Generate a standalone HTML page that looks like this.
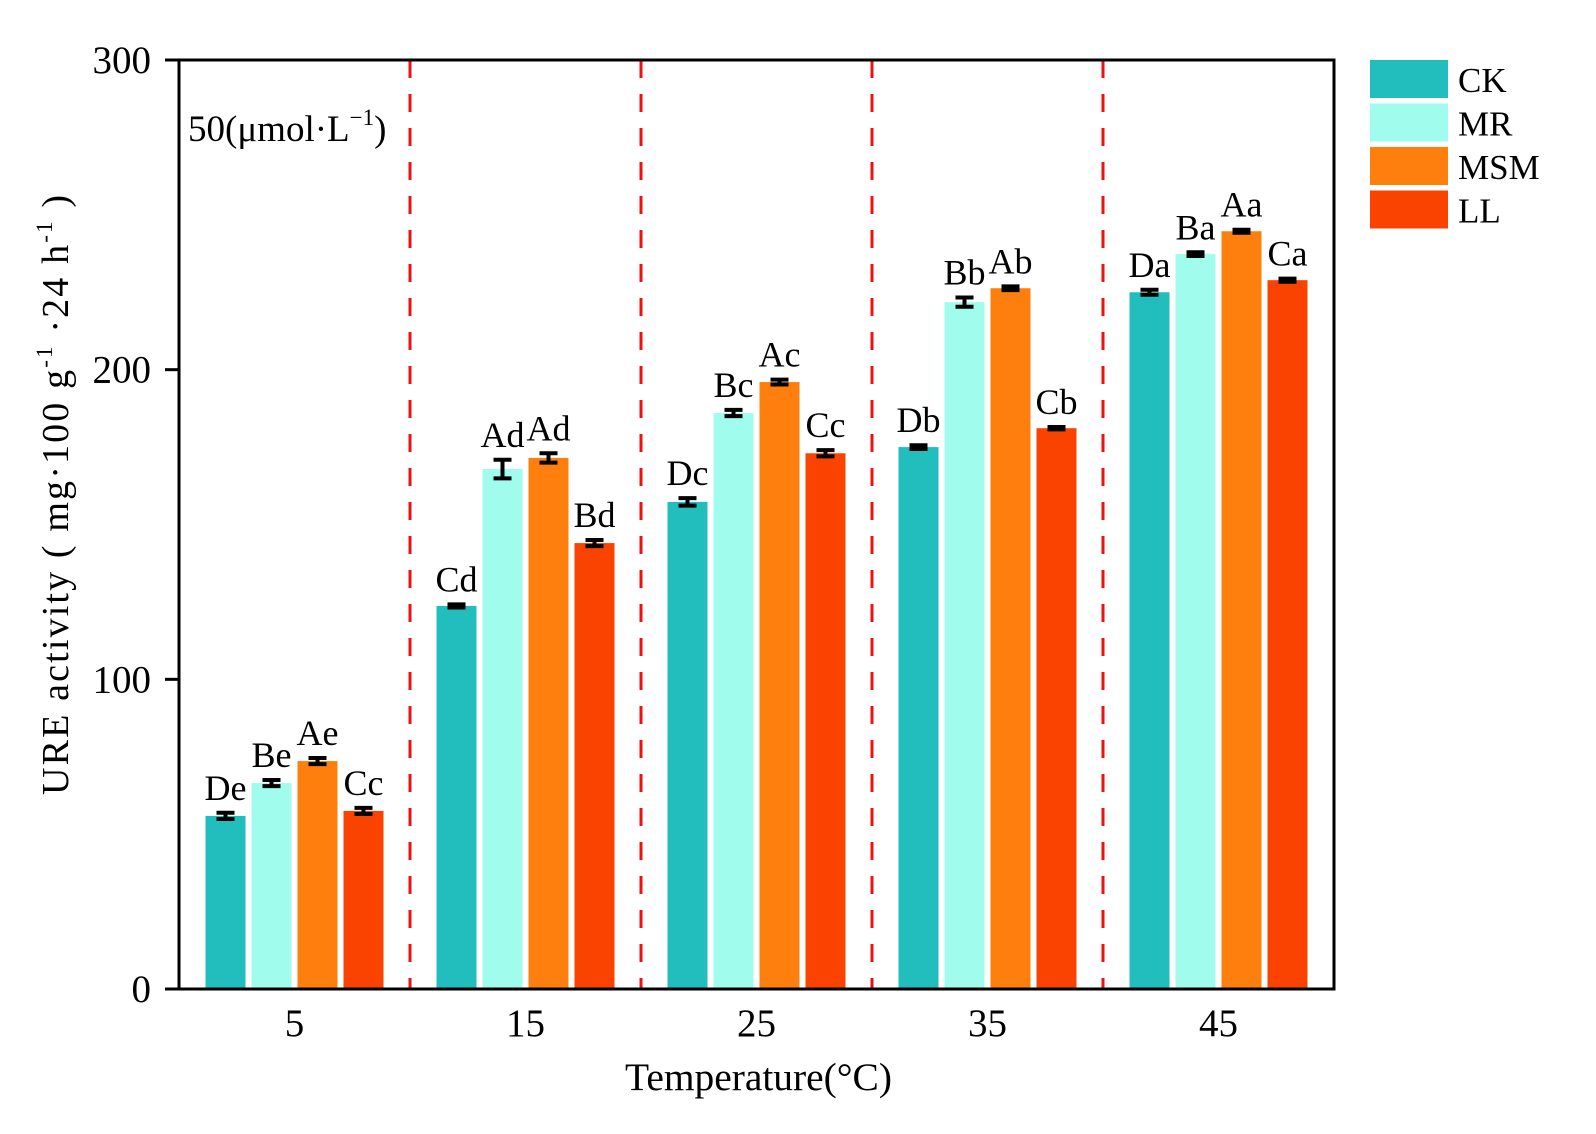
<!DOCTYPE html>
<html><head><meta charset="utf-8"><style>
html,body{margin:0;padding:0;background:#fff;width:1596px;height:1134px;overflow:hidden;position:relative}
svg{display:block}
svg text{font-family:"Liberation Serif",serif;fill:#000}
</style></head><body>
<svg id="chart" width="1596" height="1134" viewBox="0 0 1596 1134" xmlns="http://www.w3.org/2000/svg">
<g id="marks"></g>
<g id="axes"></g>
<text x="188" y="141" font-size="37">50(μmol·L<tspan font-size="23" dy="-16">−1</tspan><tspan dy="16">)</tspan></text>
<text x="625" y="1090" font-size="39" textLength="267" lengthAdjust="spacingAndGlyphs">Temperature(°C)</text>
<text transform="translate(68,795) rotate(-90)" font-size="38" textLength="600">URE activity ( mg·100 g<tspan font-size="23" dy="-16">-1</tspan><tspan dy="16"> ·24 h</tspan><tspan font-size="23" dy="-16">-1</tspan><tspan dy="16">  )</tspan></text>
</svg>
<script>
const categories = ["5","15","25","35","45"];
const seriesNames = ["CK","MR","MSM","LL"];
const ckValues = [55.9,123.7,157.3,175,225];
const mrValues = [66.5,167.9,186,221.8,237.3];
const msmValues = [73.6,171.5,196,226.3,244.7];
const llValues = [57.5,144,173,181.1,228.9];
const ckErr = [1,0.5,1.2,0.6,0.8];
const mrErr = [1,3,1,1.5,0.6];
const msmErr = [1,1.5,0.8,0.6,0.5];
const llErr = [1,1,1,0.4,0.5];
const ckLetters = ["De","Cd","Dc","Db","Da"];
const mrLetters = ["Be","Ad","Bc","Bb","Ba"];
const msmLetters = ["Ae","Ad","Ac","Ab","Aa"];
const llLetters = ["Cc","Bd","Cc","Cb","Ca"];
const yTicks = [0,100,200,300];

const colors = ["#22BDBD","#A0FDED","#FF7F0E","#FA4300"];
const values = [ckValues,mrValues,msmValues,llValues];
const errs = [ckErr,mrErr,msmErr,llErr];
const letters = [ckLetters,mrLetters,msmLetters,llLetters];
const L=179,R=1334,T=60,B=989,yMax=300;
const NS="http://www.w3.org/2000/svg";
const y = v => B - v/yMax*(B-T);
const groupW = (R-L)/categories.length;
const xc = i => L + groupW*(i+0.5);
const pitch=46, bw=40;
const barX = (i,s) => xc(i) + (s-1.5)*pitch - bw/2;
function mk(tag, attrs, parent){const e=document.createElementNS(NS,tag);for(const k in attrs)e.setAttribute(k,attrs[k]);parent.appendChild(e);return e;}
const marks=document.getElementById('marks'), axes=document.getElementById('axes');

for(let i=1;i<categories.length;i++){
  const ln=mk('line',{x1:L+groupW*i,x2:L+groupW*i,y1:T,y2:B,stroke:'#EE1111','stroke-width':3,'stroke-dasharray':'18 16'},marks);
  
  
}
categories.forEach((c,i)=>{
  seriesNames.forEach((sn,s)=>{
    const v=values[s][i], e=errs[s][i], x=barX(i,s);
    const r=mk('rect',{x:x,y:y(v),width:bw,height:B-y(v),fill:colors[s]},marks);
    
    
    const cx=x+bw/2, y1=y(v+e), y2=y(v-e);
    const eb=mk('path',{d:`M${cx-9},${y1}H${cx+9}M${cx},${y1}V${y2}M${cx-9},${y2}H${cx+9}`,stroke:'#000','stroke-width':4,fill:'none'},marks);
    
    
    const t=mk('text',{x:cx,y:y1-13,'text-anchor':'middle','font-size':36},marks);
    t.textContent=letters[s][i];
    
    
  });
  const xt=mk('text',{x:xc(i),y:1036,'text-anchor':'middle','font-size':39},axes);
  xt.textContent=c;
  
  
});
const fr=mk('rect',{x:L,y:T,width:R-L,height:B-T,fill:'none',stroke:'#000','stroke-width':3},axes);


yTicks.forEach(v=>{
  const tk=mk('line',{x1:L-14,x2:L,y1:y(v),y2:y(v),stroke:'#000','stroke-width':3},axes);
  
  
  const tl=mk('text',{x:L-28,y:y(v)+13,'text-anchor':'end','font-size':39},axes);
  tl.textContent=v;
  
  
});
seriesNames.forEach((sn,s)=>{
  const ly=60+s*43.5;
  const lr=mk('rect',{x:1370,y:ly,width:78,height:38,fill:colors[s]},axes);
  
  
  const lt=mk('text',{x:1458,y:ly+32,'font-size':35},axes);
  lt.textContent=sn;
  
  
});
</script>
</body></html>
